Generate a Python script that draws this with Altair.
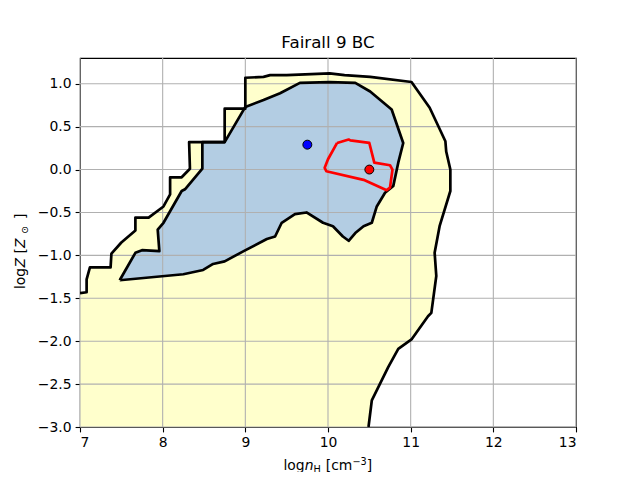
import altair as alt
import pandas as pd

# axis limits and ticks
x_lim = [7, 13]
y_lim = [-3.0, 1.3]
x_ticks = [7, 8, 9, 10, 11, 12, 13]
y_ticks = [-3.0, -2.5, -2.0, -1.5, -1.0, -0.5, 0.0, 0.5, 1.0]

# outer (yellow) contour
outer_x = [7.00, 7.08, 7.08, 7.12, 7.37, 7.38, 7.50, 7.67, 7.67, 7.83, 8.01, 8.09,
           8.09, 8.23, 8.33, 8.32, 8.75, 8.75, 9.00, 9.00, 9.22, 9.30, 9.50, 10.02,
           10.20, 10.51, 11.01, 11.23, 11.42, 11.43, 11.48, 11.48, 11.35, 11.29,
           11.31, 11.25, 11.21, 11.01, 10.85, 10.73, 10.53, 10.49]
outer_y = [-1.44, -1.43, -1.28, -1.14, -1.14, -0.98, -0.85, -0.71, -0.56, -0.56,
           -0.43, -0.29, -0.09, -0.09, 0.01, 0.32, 0.32, 0.71, 0.71, 1.07, 1.08,
           1.10, 1.10, 1.12, 1.10, 1.08, 1.02, 0.72, 0.33, 0.21, 0.00, -0.25,
           -0.66, -0.97, -1.24, -1.67, -1.71, -1.98, -2.09, -2.30, -2.69, -3.00]
# corner of the axes that closes the filled region
outer_close_x = [7.00]
outer_close_y = [-3.00]

# inner (blue) contour
inner_x = [7.48, 7.67, 7.75, 7.96, 7.94, 8.01, 8.23, 8.27, 8.48, 8.48, 8.75, 9.00,
           9.22, 9.42, 9.66, 10.02, 10.33, 10.51, 10.77, 10.91, 10.85, 10.79, 10.69,
           10.59, 10.53, 10.43, 10.33, 10.25, 10.18, 10.06, 9.94, 9.74, 9.60, 9.44,
           9.36, 9.26, 8.98, 8.75, 8.61, 8.49, 8.25]
inner_y = [-1.29, -0.97, -0.94, -0.95, -0.70, -0.62, -0.25, -0.23, 0.01, 0.32,
           0.32, 0.73, 0.81, 0.89, 1.01, 1.02, 1.01, 0.91, 0.70, 0.31, 0.08, -0.19,
           -0.27, -0.43, -0.62, -0.66, -0.74, -0.83, -0.78, -0.66, -0.62, -0.50,
           -0.52, -0.62, -0.78, -0.81, -0.95, -1.07, -1.10, -1.17, -1.22]

# red contour
red_x = [10.11, 10.25, 10.27, 10.50, 10.56, 10.75, 10.78, 10.75, 10.71, 10.43,
         9.98, 9.96, 10.00]
red_y = [0.31, 0.35, 0.34, 0.31, 0.08, 0.05, 0.00, -0.21, -0.24, -0.12,
         -0.02, 0.02, 0.12]

# points
pt_x = [9.75, 10.50]
pt_y = [0.29, 0.00]
pt_color = ["#0000ff", "#ff0000"]

chart_title = "Fairall 9 BC"

FONT = "DejaVu Sans"


def path_df(xs, ys, close=False):
    xs = list(xs)
    ys = list(ys)
    if close:
        xs = xs + [xs[0]]
        ys = ys + [ys[0]]
    return pd.DataFrame({"x": xs, "y": ys, "i": list(range(len(xs)))})


x_scale = alt.Scale(domain=x_lim, nice=False, zero=False)
y_scale = alt.Scale(domain=y_lim, nice=False, zero=False)

x_axis = alt.Axis(values=x_ticks, format="d", grid=False, title=None, domain=False,
                  tickColor="black", tickWidth=1.1, tickSize=4.9, labelPadding=4,
                  labelFont=FONT, labelFontSize=13.9, labelColor="black")
y_axis = alt.Axis(values=y_ticks, format=".1f", grid=False, title=None, domain=False,
                  tickColor="black", tickWidth=1.1, tickSize=4.9, labelPadding=4,
                  labelFont=FONT, labelFontSize=13.9, labelColor="black")

X = alt.X("x:Q", scale=x_scale, axis=x_axis)
Y = alt.Y("y:Q", scale=y_scale, axis=y_axis)

outer_fill = alt.Chart(path_df(outer_x + outer_close_x, outer_y + outer_close_y, close=True)).mark_line(
    fill="#ffffcc", strokeOpacity=0, clip=True).encode(x=X, y=Y, order="i:Q")
inner_fill = alt.Chart(path_df(inner_x, inner_y, close=True)).mark_line(
    fill="#b3cde3", strokeOpacity=0, clip=True).encode(x=X, y=Y, order="i:Q")

grid_x = alt.Chart(pd.DataFrame({"x": x_ticks})).mark_rule(
    color="#b0b0b0", strokeWidth=1.1).encode(x=X)
grid_y = alt.Chart(pd.DataFrame({"y": y_ticks})).mark_rule(
    color="#b0b0b0", strokeWidth=1.1).encode(y=Y)

outer_line = alt.Chart(path_df(outer_x, outer_y)).mark_line(
    color="black", strokeWidth=2.7, strokeJoin="round", clip=True).encode(x=X, y=Y, order="i:Q")
inner_line = alt.Chart(path_df(inner_x, inner_y, close=True)).mark_line(
    color="black", strokeWidth=2.7, strokeJoin="round", clip=True).encode(x=X, y=Y, order="i:Q")
red_line = alt.Chart(path_df(red_x, red_y, close=True)).mark_line(
    color="#ff0000", strokeWidth=2.7, strokeJoin="round", clip=True).encode(x=X, y=Y, order="i:Q")

points = alt.Chart(pd.DataFrame({"x": pt_x, "y": pt_y, "c": pt_color})).mark_point(
    filled=True, size=80, stroke="black", strokeWidth=1, opacity=1, shape="circle").encode(
    x=X, y=Y, fill=alt.Fill("c:N", scale=None))


def piece(text, x, y, size=13.9, style="normal", angle=0, align="left"):
    return alt.Chart(pd.DataFrame({"t": [text]})).mark_text(
        text=text, font=FONT, fontSize=size, fontStyle=style, align=align,
        baseline="alphabetic", angle=angle, color="black").encode(
        x=alt.value(x), y=alt.value(y))


title_mark = piece(chart_title, 248, -9.7, size=16.7, align="center")

xt = 412
x_title = [
    piece("log", 203.5, xt),
    piece("n", 224.7, xt, style="italic"),
    piece("H", 233.5, xt + 3, size=9.7),
    piece("[cm", 245.8, xt),
    piece("\u22123", 272.4, xt - 5.5, size=9.7),
    piece("]", 286.7, xt),
]
yx = -54.7
y_title = [
    piece("log", yx, 231, angle=270),
    piece("Z", yx, 209.5, style="italic", angle=270),
    piece("[", yx, 195.5, angle=270),
    piece("Z", yx, 190, style="italic", angle=270),
    piece("\u2299", yx + 3, 176, size=9.7, angle=270),
    piece("]", yx, 161, angle=270),
]

chart = alt.layer(
    outer_fill, inner_fill, grid_x, grid_y, outer_line, inner_line, red_line, points,
    title_mark, *x_title, *y_title
).properties(
    width=496, height=369,
    autosize=alt.AutoSizeParams(type="none"),
    padding={"left": 72, "top": 50, "right": 56, "bottom": 45},
).configure_view(stroke="black", strokeWidth=1.1)

chart.save("out.html", embed_options={"renderer": "svg", "actions": False})
